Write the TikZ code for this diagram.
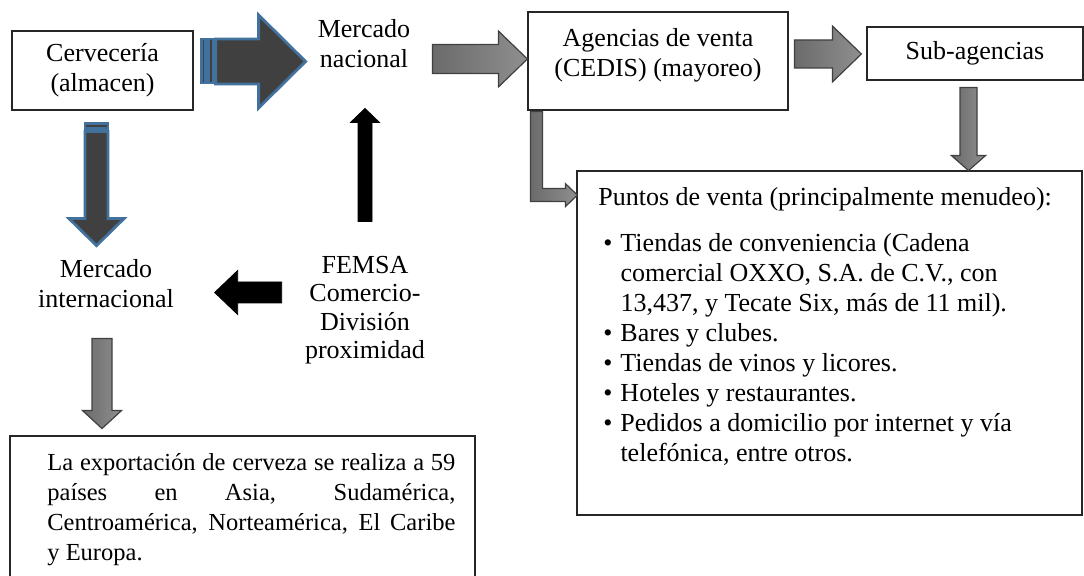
\documentclass[tikz,border=0pt]{standalone}
\usepackage{fontspec}
\setmainfont{Liberation Serif}
\usetikzlibrary{calc, positioning}
\definecolor{stripeblue}{RGB}{65,113,156}
\definecolor{darkfill}{RGB}{64,64,64}

\begin{document}
\begin{tikzpicture}[x=0.5pt, y=-0.5pt,
    every node/.style={font=\fontsize{13}{15}\selectfont, inner sep=0pt},
    box/.style={draw=black!85, line width=0.6pt, fill=white},
    darkarr/.style={draw=stripeblue, line width=1.4pt, fill=darkfill, line join=miter},
    grayarr/.style={draw=black!75, line width=0.6pt, left color=black!58, right color=black!44},
    blackarr/.style={fill=black}]
    \useasboundingbox (0,0) rectangle (1084,576);

    % boxes and labels
    \node[box, minimum width=90.5pt, minimum height=39.5pt, align=center] (cerv) at (102.5,70.5) {Cervecería\\(almacen)};
    \node[align=center] (mnac) at (364,44) {Mercado\\nacional};
    \node[box, minimum width=130pt, minimum height=49pt] (agen) at (658,61) {};
    \node[align=center] (agentxt) at ($(agen)+(0,-6)$) {Agencias de venta\\(CEDIS) (mayoreo)};
    \node[box, minimum width=108pt, minimum height=26.5pt] (sub) at (975,53.5) {Sub-agencias};
    \node[box, minimum width=252.5pt, minimum height=172pt] (puntos) at (829.5,343) {};
    \node[anchor=north west] (puntostxt) at (598,184) {%
        \begin{tabular}{@{\hspace{2.5pt}}l@{\hspace{4pt}}l@{}}
            \multicolumn{2}{@{}l@{}}{Puntos de venta (principalmente menudeo):}\\[8pt]
            \textbullet & Tiendas de conveniencia (Cadena\\
                        & comercial OXXO, S.A. de C.V., con\\
                        & 13,437, y Tecate Six, más de 11 mil).\\
            \textbullet & Bares y clubes.\\
            \textbullet & Tiendas de vinos y licores.\\
            \textbullet & Hoteles y restaurantes.\\
            \textbullet & Pedidos a domicilio por internet y vía\\
                        & telefónica, entre otros.
        \end{tabular}};
    \node[align=center] (minter) at (106,284) {Mercado\\internacional};
    \node[align=center, font=\fontsize{13}{14.25}\selectfont] (femsa) at (365,310) {FEMSA\\Comercio-\\División\\proximidad};
    \node[box, line width=0.9pt, minimum width=232.5pt, minimum height=74pt] (expo) at (242.5,510) {};
    \node[anchor=north west, text width=204pt, align=justify, font=\fontsize{12.25}{15}\selectfont] (expotxt) at (47,453)
        {La exportación de cerveza se realiza a 59\linebreak países en Asia, Sudamérica,\linebreak Centroamérica, Norteamérica, El Caribe\linebreak y Europa.};

    % striped arrow: cerveceria -> mercado nacional
    \draw[darkarr] ($(cerv.east)+(8,-31.5)$) rectangle ++(4,44);
    \draw[darkarr] ($(cerv.east)+(15,-31.5)$) rectangle ++(5,44);
    \draw[darkarr] ($(cerv.east)+(22,-31.5)$) -- ++(43,0) -- ++(0,-24) -- ++(47,46.5) -- ++(-47,46.5) -- ++(0,-24) -- ++(-43,0) -- cycle;
    % striped arrow: cerveceria -> mercado internacional
    \draw[darkarr] ($(cerv.south)+(-17.5,13)$) rectangle ++(23,5);
    \draw[darkarr] ($(cerv.south)+(-17.5,21)$) -- ++(23,0) -- ++(0,87) -- ++(16,0) -- ++(-27.5,27) -- ++(-27.5,-27) -- ++(16,0) -- cycle;

    % gray arrows
    \draw[grayarr] ($(agen.west)+(-95,-16.5)$) -- ++(66,0) -- ++(0,-13.5) -- ++(29,28) -- ++(-29,28) -- ++(0,-13.5) -- ++(-66,0) -- cycle;
    \draw[grayarr] ($(sub.west)+(-72,-13.5)$) -- ++(38,0) -- ++(0,-14) -- ++(29,28) -- ++(-29,28) -- ++(0,-14) -- ++(-38,0) -- cycle;
    \draw[grayarr] ($(sub.south)+(-15,7)$) -- ++(17,0) -- ++(0,68) -- ++(8.5,0) -- ++(-17,15) -- ++(-17,-15) -- ++(8.5,0) -- cycle;
    \draw[grayarr] ($(agen.south west)+(3,1)$) -- ++(12,0) -- ++(0,77) -- ++(23,0) -- ++(0,-5) -- ++(12,11.5) -- ++(-12,11.5) -- ++(0,-5) -- ++(-35,0) -- cycle;
    \draw[grayarr] ($(minter.south)+(-14,30)$) -- ++(20,0) -- ++(0,72) -- ++(9.5,0) -- ++(-19.5,18) -- ++(-19.5,-18) -- ++(9.5,0) -- cycle;

    % black arrows from FEMSA
    \draw[blackarr] ($(femsa.north)+(-7,-34)$) -- ++(0,-99) -- ++(-7.5,0) -- ++(14.5,-14) -- ++(14.5,14) -- ++(-7.5,0) -- ++(0,99) -- cycle;
    \draw[blackarr] ($(femsa.west)+(-23,-28)$) -- ++(-44,0) -- ++(0,-11.5) -- ++(-23,22) -- ++(23,22) -- ++(0,-11.5) -- ++(44,0) -- cycle;
\end{tikzpicture}
\end{document}
